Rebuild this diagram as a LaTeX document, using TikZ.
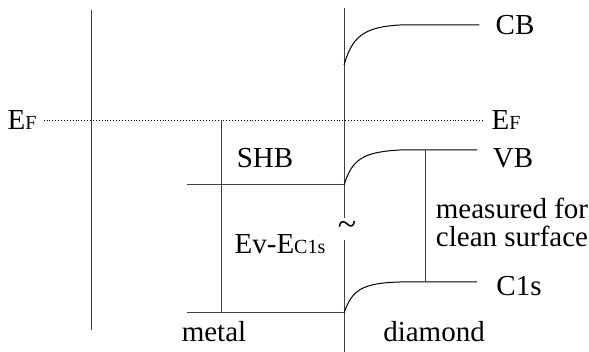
\documentclass[tikz,border=0pt]{standalone}
\usepackage{fontspec}
\setmainfont{Liberation Serif}
\newfontfamily\bandfont{Liberation Serif}
\usetikzlibrary{positioning, calc}

% reduced letters standing on the baseline (E_F, E_C1s)
\newcommand{\lowtxt}[1]{{\fontsize{20}{21}\selectfont #1}}

\begin{document}
\begin{tikzpicture}[
  x=1pt, y=-1pt,
  font=\bandfont\fontsize{29}{30}\selectfont,
  lvl/.style={draw=black!75, line width=1pt},
  band/.style={draw=black, line width=1pt},
  fermi/.style={draw=black, line width=0.9pt, dotted},
  lbl/.style={inner sep=0pt}
]
\useasboundingbox (0,0) rectangle (589,352);

% frame lines
\coordinate (mtop) at (91,10);
\coordinate (mbot) at (91,330);
\coordinate (itop) at (344,8);
\coordinate (igap1) at (344,218);
\coordinate (igap2) at (344,240);
\coordinate (ibot) at (344,352);
\draw[lvl] (mtop) -- (mbot);
\draw[lvl] (itop) -- (igap1);
\draw[lvl] (igap2) -- (ibot);

% Fermi level
\node[lbl] (efl) at (22,120) {E\lowtxt{F}};
\node[lbl] (efr) at (506,120) {E\lowtxt{F}};
\draw[fermi] (efl.east) ++(7,0) coordinate (efa) -- ($(efr.west)+(-9,0)$) coordinate (efb);

% diamond bands
\node[lbl] (cb) at (515,25) {CB};
\node[lbl] (vb) at (513,158) {VB};
\node[lbl] (cls) at (519,286) {C1s};
\coordinate (cb0) at (344,65);
\coordinate (vb0) at (344,185);
\coordinate (cl0) at (344,313);
\draw[band] (cb0) .. controls (352,38) and (362,27) .. (400,25) -- ($(cb.west)+(-16,0)$) coordinate (cbend);
\draw[band] (vb0) .. controls (352,160) and (362,152) .. (400,150) -- (477,150) coordinate (vbend);
\draw[band] (cl0) .. controls (352,290) and (362,283) .. (400,282) -- (477,282) coordinate (clend);

% metal side
\coordinate (shbl) at (187,185);
\coordinate (botl) at (187,313);
\draw[lvl] (shbl) -- (vb0);
\draw[lvl] (botl) -- (cl0);
\draw[lvl] (221,120) -- (221,313);
\draw[lvl] (425,150) -- (425,282);

% labels
\node[lbl] (shb) at (265,158) {SHB};
\node[lbl] (meas) at (512,208) {measured for};
\node[lbl] (clean) at (512,236) {clean surface};
\node[lbl] (evec) at (280,244) {Ev-E\lowtxt{C1s}};
\node[lbl] (tld) at (347,228) {\fontsize{34}{34}\selectfont\textasciitilde};
\node[lbl] (metal) at (214,332) {metal};
\node[lbl] (dia) at (434,332) {diamond};
\end{tikzpicture}
\end{document}
